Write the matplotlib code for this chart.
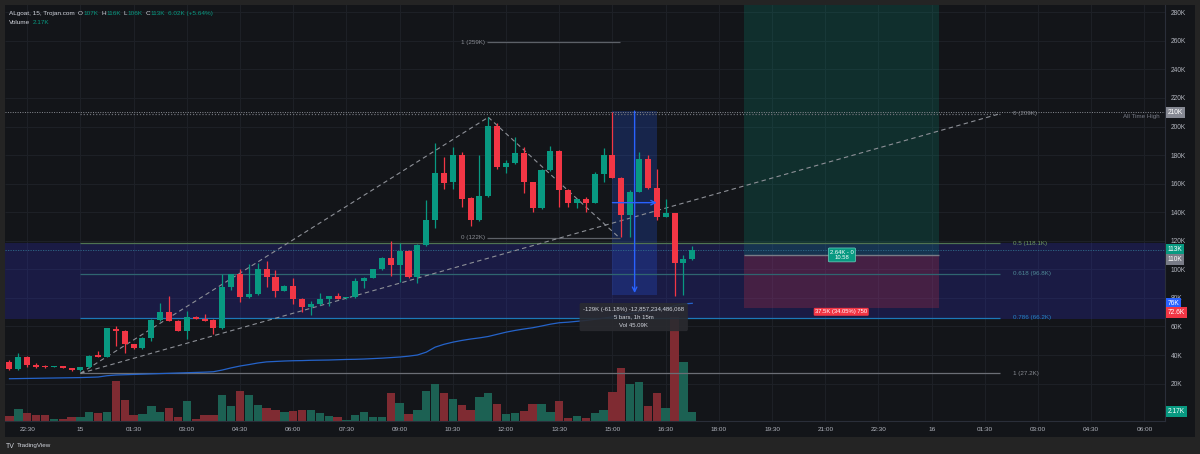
import numpy as np
import matplotlib.pyplot as plt
import matplotlib.transforms as mtransforms
from matplotlib.patches import Rectangle

plt.rcParams['font.family'] = ['Liberation Sans', 'DejaVu Sans']

# 15 minute candles, 22:00 on the 14th to 17:15 on the 15th (prices in K)
opens = [35.4, 30.2, 38.9, 32.8, 32.0, 31.6, 32.3, 30.9, 29.3, 31.4,
         39.8, 38.9, 58.5, 56.8, 47.5, 44.7, 52.2, 64.5, 70.4, 63.8,
         57.1, 66.4, 65.5, 64.8, 58.7, 87.6, 96.5, 80.4, 82.5, 100.0,
         94.6, 85.1, 88.4, 79.5, 73.9, 75.5, 79.5, 81.1, 79.7, 80.5,
         91.8, 94.2, 100.2, 108.2, 103.0, 112.9, 94.4, 117.1, 134.6, 167.3,
         160.9, 180.3, 149.7, 134.6, 151.6, 200.6, 171.9, 174.2, 181.2, 160.9,
         142.7, 169.6, 182.9, 155.6, 146.7, 149.0, 146.7, 166.8, 180.0, 164.2,
         138.1, 154.4, 177.5, 156.7, 136.9, 139.2, 104.7, 107.0]
highs = [36.5, 41.2, 39.5, 34.2, 32.8, 32.6, 32.6, 31.2, 31.8, 40.3,
         42.8, 59.2, 60.3, 57.2, 47.9, 52.5, 64.9, 76.7, 81.1, 64.2,
         71.1, 67.0, 68.7, 65.0, 97.0, 96.8, 100.0, 103.7, 104.7, 105.8,
         99.5, 88.8, 93.7, 79.8, 78.1, 83.2, 81.4, 83.2, 80.9, 94.2,
         94.5, 100.5, 108.5, 120.1, 118.2, 113.3, 117.5, 148.6, 188.3, 178.9,
         185.9, 182.4, 150.5, 180.1, 206.5, 202.3, 176.6, 192.9, 185.9, 161.3,
         170.3, 186.4, 183.3, 156.0, 149.4, 150.9, 168.4, 184.8, 210.4, 164.6,
         155.6, 182.4, 180.1, 170.0, 149.5, 139.6, 110.1, 116.4]
lows = [29.5, 29.8, 31.5, 31.2, 31.2, 31.4, 30.9, 29.0, 28.9, 31.0,
        38.6, 38.6, 46.3, 41.2, 44.2, 44.3, 50.1, 63.8, 63.5, 56.8,
        51.0, 65.0, 63.8, 54.7, 58.3, 85.5, 76.9, 80.2, 82.2, 87.4,
        80.4, 84.8, 75.7, 70.4, 67.8, 75.2, 74.3, 79.0, 79.5, 80.2,
        87.2, 94.0, 99.8, 95.3, 91.4, 94.0, 90.2, 116.5, 129.2, 156.0,
        156.0, 143.9, 130.4, 133.8, 150.8, 170.5, 167.7, 173.8, 153.2, 140.4,
        142.3, 169.2, 143.9, 143.9, 142.7, 140.4, 146.3, 161.4, 163.8, 122.9,
        122.9, 154.0, 156.3, 134.6, 136.5, 81.3, 82.0, 106.5]
closes = [30.2, 38.9, 32.8, 31.4, 31.6, 32.2, 30.9, 29.3, 31.4, 39.6,
          38.9, 58.7, 56.8, 47.5, 44.7, 52.2, 64.5, 70.4, 63.8, 57.1,
          66.4, 65.0, 64.1, 58.7, 87.6, 96.5, 80.4, 82.5, 100.0, 94.6,
          85.1, 88.4, 79.5, 73.9, 75.5, 79.5, 81.1, 79.3, 80.5, 91.8,
          94.2, 100.2, 108.2, 103.0, 112.9, 94.4, 117.1, 134.6, 167.3, 160.8,
          180.3, 149.5, 134.6, 151.6, 200.6, 171.9, 174.2, 181.2, 160.9, 142.7,
          169.6, 182.9, 155.6, 146.7, 149.0, 146.7, 166.8, 180.0, 164.2, 138.1,
          154.4, 177.5, 156.7, 136.9, 139.2, 104.7, 107.0, 113.6]
volumes = [1.17, 2.87, 1.93, 1.33, 1.33, 0.40, 0.40, 0.93, 1.00, 2.17,
           1.79, 2.10, 9.25, 4.90, 1.33, 1.56, 3.43, 2.10, 3.10, 1.00,
           4.66, 0.40, 1.33, 1.47, 6.13, 3.50, 7.00, 5.99, 3.73, 2.96,
           2.49, 2.17, 2.33, 2.63, 2.49, 1.93, 1.17, 0.93, 0.23, 1.40,
           2.10, 1.00, 1.00, 6.46, 4.27, 1.63, 2.68, 7.10, 8.62, 6.53,
           5.13, 3.66, 2.56, 5.52, 6.60, 3.96, 1.63, 1.79, 2.33, 3.89,
           3.96, 2.10, 4.73, 0.63, 1.17, 0.70, 1.86, 2.56, 6.83, 12.28,
           8.55, 9.09, 3.50, 6.46, 2.96, 24.17, 13.75, 2.17]
ma = [23.4, 23.5, 23.6, 23.7, 23.8, 23.9, 24.0, 24.1, 24.2, 24.4,
      24.6, 25.5, 26.0, 26.2, 26.4, 26.6, 26.8, 27.0, 27.2, 27.4,
      27.6, 27.8, 28.0, 28.3, 29.5, 31.0, 32.3, 33.3, 34.4, 35.2,
      35.5, 35.8, 36.0, 36.1, 36.3, 36.4, 36.5, 36.7, 36.9, 37.0,
      37.2, 37.5, 37.8, 38.2, 38.6, 39.2, 40.0, 42.0, 45.5, 47.5,
      49.0, 50.2, 51.2, 52.0, 53.0, 54.5, 56.0, 57.2, 58.2, 59.1,
      60.3, 61.6, 62.6, 63.0, 63.6, 64.2, 65.0, 65.8, 66.8, 68.0,
      69.0, 70.0, 70.8, 71.8, 72.5, 74.5, 75.8, 76.2]

price_ticks = [20, 40, 60, 80, 100, 120, 140, 160, 180, 200, 220, 240, 260, 280]
time_ticks = [-1.5, 0, 1.5, 3, 4.5, 6, 7.5, 9, 10.5, 12, 13.5, 15, 16.5, 18,
              19.5, 21, 22.5, 24, 25.5, 27, 28.5, 30]
time_labels = ['22:30', '15', '01:30', '03:00', '04:30', '06:00', '07:30', '09:00',
               '10:30', '12:00', '13:30', '15:00', '16:30', '18:00', '19:30', '21:00',
               '22:30', '16', '01:30', '03:00', '04:30', '06:00']

# drawings
fib_big = [('0', 209.0), ('0.5', 118.1), ('0.618', 96.8), ('0.786', 66.2), ('1', 27.2)]
fib_small = [('1', 259.0), ('0', 122.0)]
ath = 210.0
last_price = 113.6
entry, stop = 110.1, 72.6
meas_top, meas_bot = 210.8, 81.8

BG = '#131519'
FRAME = '#242424'
GREEN = '#089981'
RED = '#f23645'
TXT = '#b2b5be'
LIGHT = '#d1d4dc'
W, H = 1200, 454

t = -2.0 + 0.25 * np.arange(len(opens))
o = np.array(opens); c = np.array(closes)
up = c >= o
ccol = np.where(up, GREEN, RED)
vcol = np.where(up, '#1c6153', '#7f2b32')

fig = plt.figure(figsize=(12, 4.54), dpi=100, facecolor=FRAME)
fig.patches.append(Rectangle((5 / W, (H - 437) / H), 1190 / W, 432 / H,
                             transform=fig.transFigure, fc=BG, ec='none', zorder=-10))
axv = fig.add_axes([5 / W, (H - 421) / H, 1160 / W, 416 / H])
axv.set_facecolor(BG)
ax = axv.twinx()
ax.patch.set_visible(False)

axv.set_xlim(-2.126, 30.578)
ax.set_ylim(-6.2, 285.1)
axv.set_ylim(0, 97.0)

# grid
for x in time_ticks:
    axv.axvline(x, color='#1d2026', lw=0.8, zorder=0)
gtr = mtransforms.blended_transform_factory(axv.transAxes, ax.transData)
axv.hlines(price_ticks, 0, 1, transform=gtr, color='#1d2026', lw=0.8, zorder=0)

# volume
axv.bar(t, volumes, width=0.235, color=vcol, zorder=1)

# zone rectangle
ax.axhspan(65.5, 118.3, fc=(48 / 255, 48 / 255, 200 / 255, 0.25), ec='none', zorder=0.5)

# long position
ax.add_patch(Rectangle((18.72, entry), 5.5, 300, fc=(8 / 255, 153 / 255, 129 / 255, 0.2), ec='none', zorder=0.6))
ax.add_patch(Rectangle((18.72, stop), 5.5, entry - stop, fc=(242 / 255, 54 / 255, 69 / 255, 0.2), ec='none', zorder=0.6))
ax.hlines(entry, 18.72, 24.22, color='#787b86', lw=1, zorder=0.7)

# measure box
ax.add_patch(Rectangle((15.0, meas_bot), 1.25, meas_top - meas_bot, fc=(41 / 255, 98 / 255, 1, 0.22), ec='none', zorder=0.7))

# fib levels
fib_col = {'0': '#6b6e75', '0.5': '#4f7352', '0.618': '#2f6570', '0.786': '#1c78b8', '1': '#6b6e75'}
lab_col = {'0': '#8a8d94', '0.5': '#6f9a63', '0.618': '#4f8a98', '0.786': '#2585c8', '1': '#8a8d94'}
for lv, p in fib_big:
    ls = (0, (1, 1.5)) if lv == '0' else '-'
    ax.hlines(p, 0, 25.93, color=fib_col[lv], lw=0.9, ls=ls, zorder=0.8)
    ax.text(26.3, p, f'{lv} ({p:g}K)', color=lab_col[lv], fontsize=4.5, va='center', ha='left', zorder=5)
for lv, p in fib_small:
    ax.hlines(p, 11.46, 15.21, color='#5d6168', lw=0.9, zorder=0.8)
    ax.text(11.4, p, f'{lv} ({p:g}K)', color='#8a8d94', fontsize=4.5, va='center', ha='right', zorder=5)

# ATH and last price lines
ax.axhline(ath, color='#8a8d94', lw=0.7, ls=(0, (1, 1.5)), zorder=0.8)
ax.text(0.9957, 206.7, 'All Time High', transform=gtr, color='#787b86', fontsize=4.5, ha='right', va='center')
ax.axhline(last_price, color='#2f6d8c', lw=0.6, ls=(0, (1.5, 1.5)), zorder=0.8)

# trend lines
dash = dict(color='#8d9097', lw=0.8, ls=(0, (4, 3)), zorder=0.9)
ax.plot([0.0, 11.5], [27.2, 206.5], **dash)
ax.plot([11.5, 15.2], [206.5, 122.0], **dash)
ax.plot([0.0, 25.93], [27.2, 209.0], **dash)

# moving average
ax.plot(t, ma, color='#2563c9', lw=0.9, zorder=1)

# candles
ax.vlines(t, lows, highs, color=ccol, lw=0.9, zorder=2)
body_h = np.maximum(np.abs(c - o), 0.6)
ax.bar(t, body_h, bottom=np.minimum(o, c), width=0.17, color=ccol, zorder=3)

# measure arrows
ax.annotate('', xy=(15.625, 83.4), xytext=(15.625, meas_top), zorder=4,
            arrowprops=dict(arrowstyle='->', color='#2962ff', lw=1, shrinkA=0, shrinkB=0, mutation_scale=8))
ax.annotate('', xy=(16.25, 146.7), xytext=(15.0, 146.7), zorder=4,
            arrowprops=dict(arrowstyle='->', color='#2962ff', lw=1, shrinkA=0, shrinkB=0, mutation_scale=8))
ax.text(15.6, 66.6, '-129K (-61.18%) -12,857,234,486,068\n5 bars, 1h 15m\nVol 45.09K',
        color=LIGHT, fontsize=4.3, ha='center', va='center', linespacing=1.75, zorder=6,
        bbox=dict(boxstyle='round,pad=0.6,rounding_size=0.3', fc='#2a2b30', ec='none', alpha=0.9))

# long position labels
ax.text(21.47, entry, '2.64K - 0\n10.58', color='white', fontsize=4.2, ha='center', va='center',
        linespacing=1.1, zorder=6,
        bbox=dict(boxstyle='round,pad=0.3,rounding_size=0.2', fc=GREEN, ec='#6fd0bf', lw=0.5))
ax.text(21.45, stop - 0.6, '37.5K (34.05%) 750', color='white', fontsize=4.2, ha='center', va='top', zorder=6,
        bbox=dict(boxstyle='round,pad=0.25,rounding_size=0.2', fc=RED, ec='none'))

# axes styling
for s in ax.spines.values():
    s.set_visible(False)
for k, s in axv.spines.items():
    s.set_visible(k in ('right', 'bottom'))
    s.set_color('#2a2e39')
    s.set_linewidth(0.8)
axv.set_xticks(time_ticks)
axv.set_xticklabels(time_labels)
axv.tick_params(axis='x', length=0, pad=4.2, labelsize=4.6, labelcolor=TXT)
axv.tick_params(axis='y', left=False, labelleft=False, right=False, labelright=False)
ax.set_yticks(price_ticks)
ax.set_yticklabels([f'{p}K' for p in price_ticks])
ax.tick_params(axis='y', length=0, pad=4.3, labelsize=4.8, labelcolor=TXT)


def tag(axis, y, text, fc, dy=0):
    tr = mtransforms.blended_transform_factory(axis.transAxes, axis.transData)
    axis.annotate(text, xy=(1, y), xycoords=tr, xytext=(2.5, dy), textcoords='offset pixels',
                  ha='left', va='center', fontsize=4.8, color='white', annotation_clip=False, zorder=20,
                  bbox=dict(boxstyle='square,pad=0.3', fc=fc, ec='none'))


tag(ax, ath, '210K', '#868993')
tag(ax, last_price, '113K', GREEN)
tag(ax, entry, '110K', '#787b86', dy=-5)
tag(ax, ma[-1], '76K', '#2962ff')
tag(ax, stop, '72.6K', RED, dy=-4)
tag(axv, volumes[-1], '2.17K', GREEN)


# header legend, laid out piece by piece
def line_of_text(x, y, pieces, size=4.6):
    r = fig.canvas.get_renderer()
    for s, col, gap in pieces:
        tx = fig.text(x / W, 1 - y / H, s, color=col, fontsize=size, va='center', ha='left')
        x += tx.get_window_extent(r).width + gap


line_of_text(9, 13.3, [('ALgoat, 15, Trojan.com', LIGHT, 3.5),
                       ('O', LIGHT, 0.3), ('107K', GREEN, 3),
                       ('H', LIGHT, 0.3), ('116K', GREEN, 3),
                       ('L', LIGHT, 0.3), ('106K', GREEN, 3),
                       ('C', LIGHT, 0.3), ('113K', GREEN, 3),
                       ('6.02K (+5.64%)', GREEN, 0)])
line_of_text(9, 22.3, [('Volume', LIGHT, 3), ('2.17K', GREEN, 0)])

line_of_text(6, 446, [('TV', LIGHT, 2)], size=5)
line_of_text(17, 446, [('TradingView', LIGHT, 0)], size=4.5)

fig.savefig('out.png', dpi=100, facecolor=FRAME)
